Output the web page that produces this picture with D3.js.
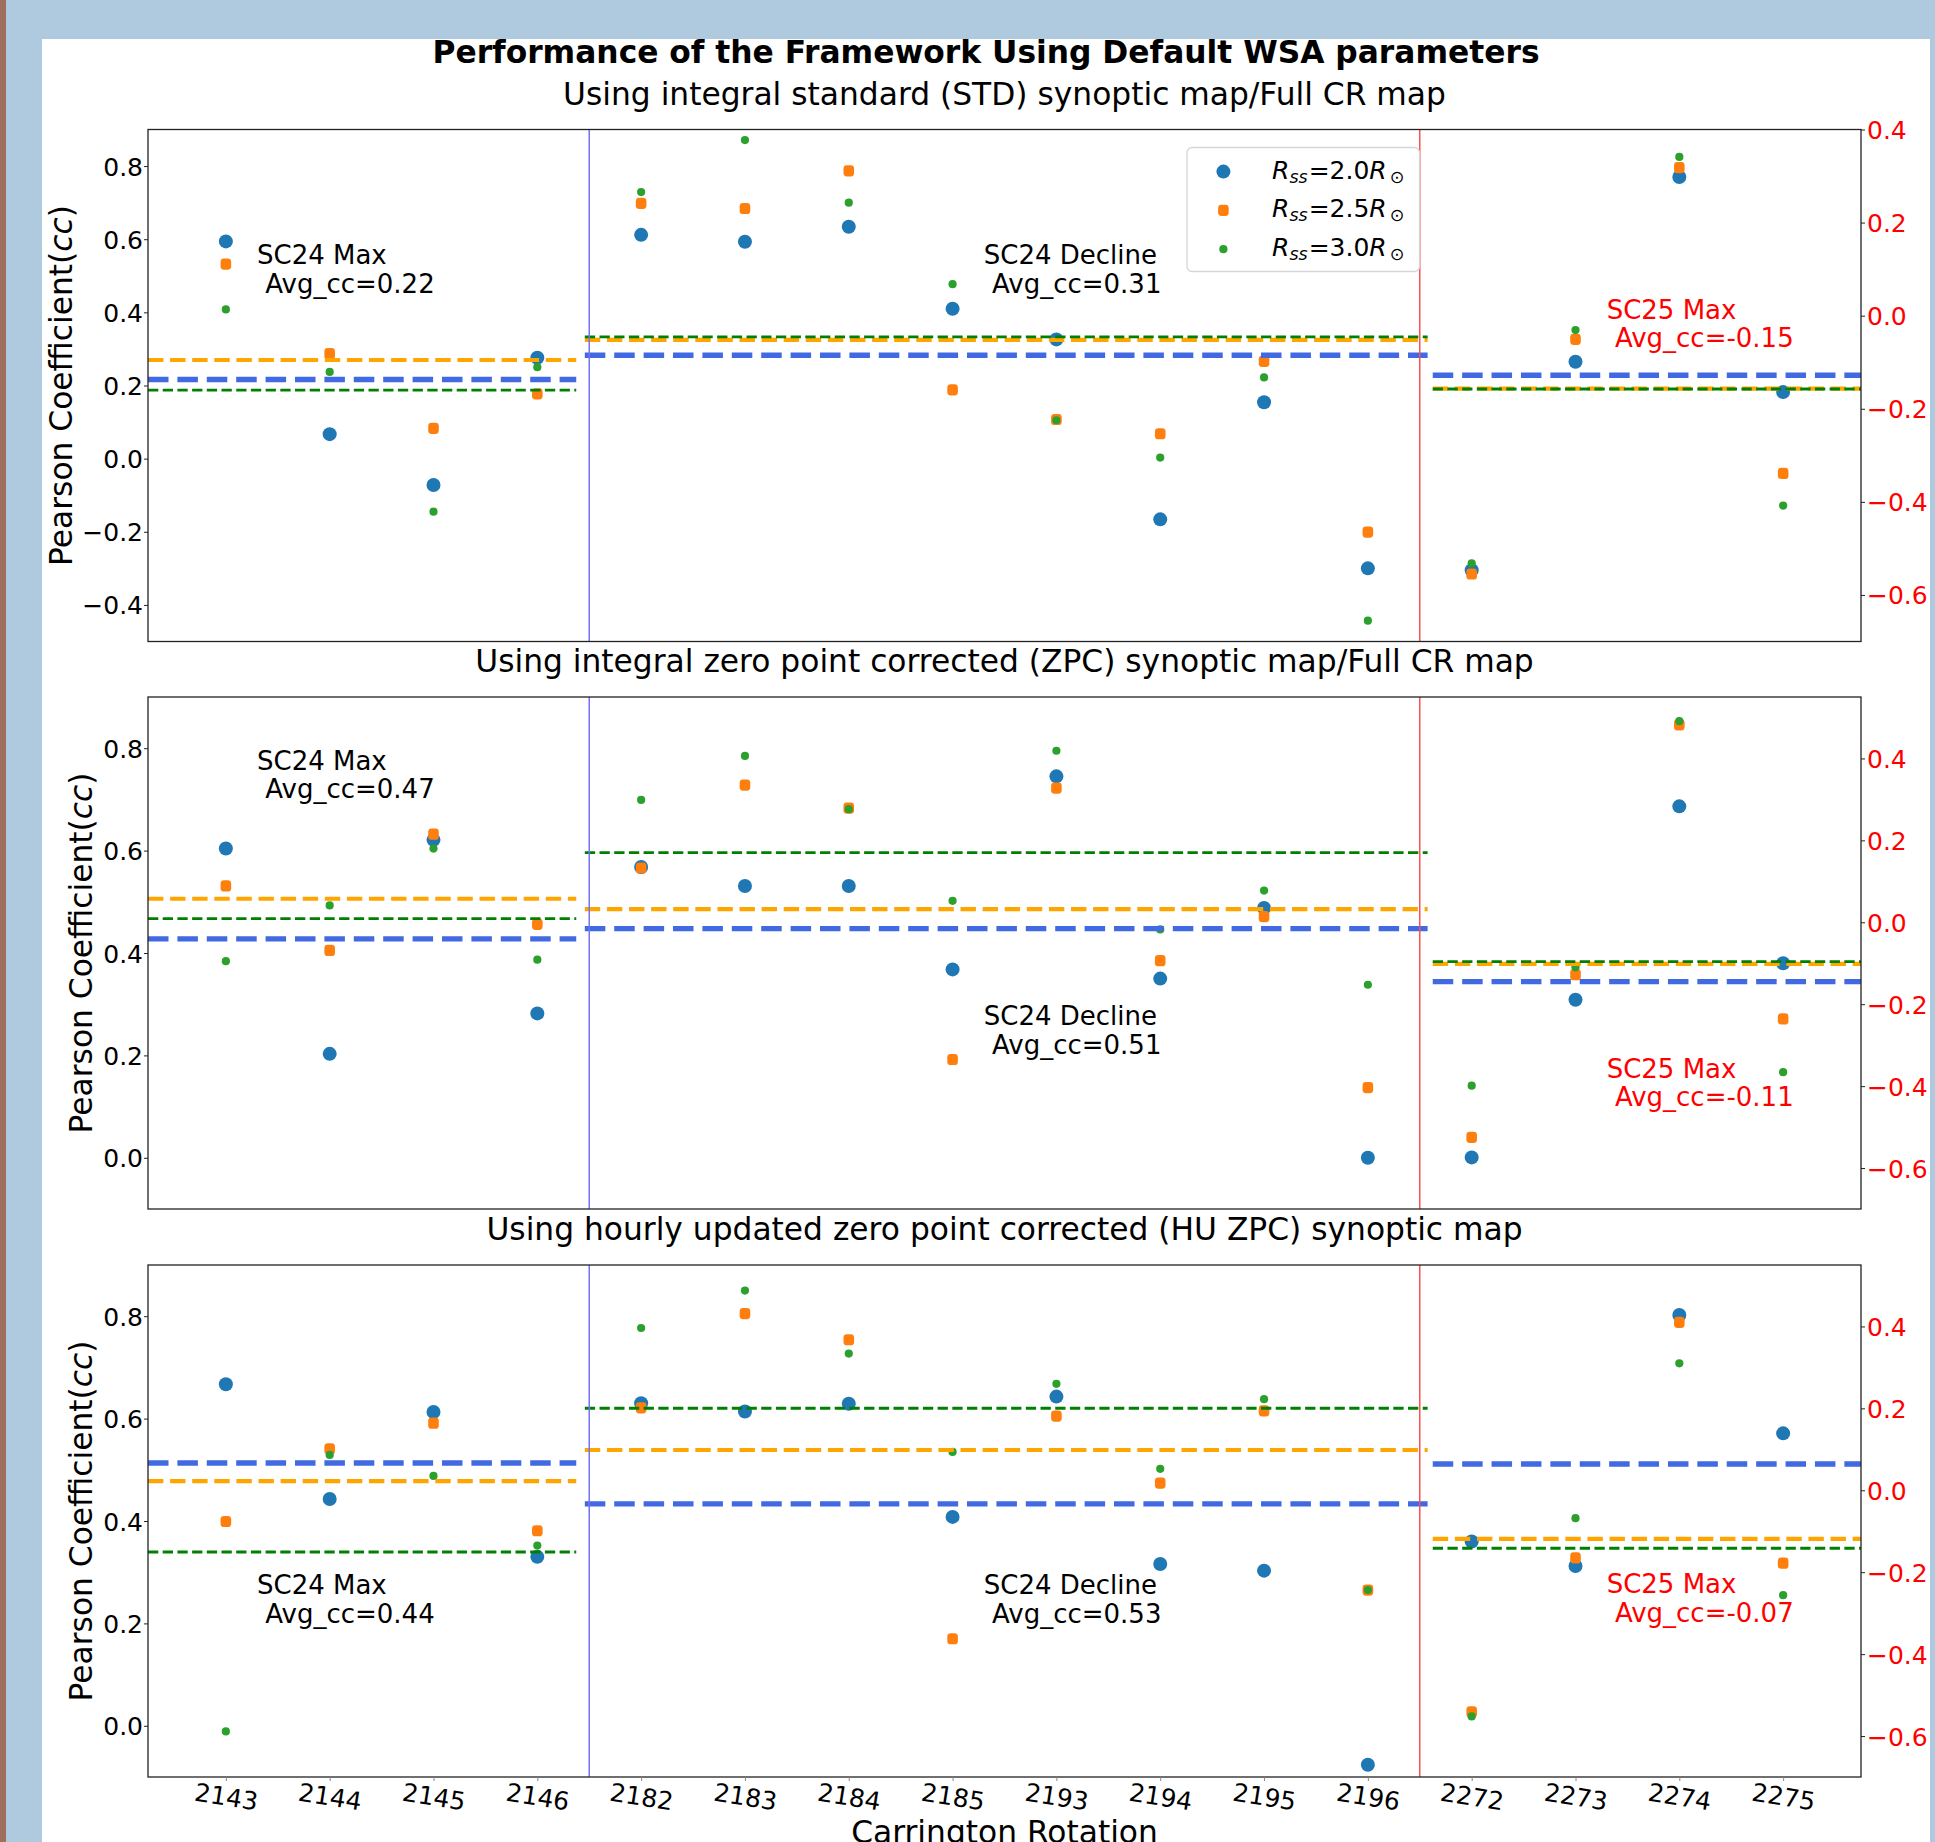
<!DOCTYPE html>
<html><head><meta charset="utf-8">
<script src="https://cdn.jsdelivr.net/npm/d3@7"></script>
<style>
body{margin:0;background:#fff;}
svg{display:block;font-family:"DejaVu Sans",sans-serif;}
</style>
</head><body>
<svg id="chart" width="1935" height="1842"></svg>
<script>
// ---------------- DATA ----------------
const categories = ["2143","2144","2145","2146","2182","2183","2184","2185","2193","2194","2195","2196","2272","2273","2274","2275"];
// phase group of each rotation: 0 = SC24 Max, 1 = SC24 Decline, 2 = SC25 Max (right axis)
const groupOf = [0,0,0,0,1,1,1,1,1,1,1,1,2,2,2,2];
const seriesNames = ["2.0","2.5","3.0"];

// Panel 1: integral standard (STD) map
const std20 = [0.594, 0.067, -0.072, 0.276, 0.612, 0.593, 0.634, 0.410, 0.326, -0.166, 0.154, -0.300, -0.547, -0.099, 0.298, -0.164];
const std25 = [0.532, 0.287, 0.083, 0.177, 0.698, 0.684, 0.787, 0.188, 0.107, 0.068, 0.266, -0.201, -0.555, -0.051, 0.318, -0.339];
const std30 = [0.408, 0.237, -0.145, 0.250, 0.729, 0.871, 0.700, 0.477, 0.105, 0.003, 0.222, -0.443, -0.532, -0.031, 0.341, -0.408];
// Panel 2: integral zero point corrected (ZPC) map
const zpc20 = [0.604, 0.203, 0.621, 0.282, 0.568, 0.531, 0.531, 0.368, 0.745, 0.350, 0.488, 0.000, -0.574, -0.189, 0.283, -0.100];
const zpc25 = [0.531, 0.405, 0.632, 0.456, 0.566, 0.728, 0.683, 0.192, 0.722, 0.385, 0.471, 0.137, -0.525, -0.128, 0.482, -0.236];
const zpc30 = [0.384, 0.493, 0.604, 0.387, 0.699, 0.785, 0.681, 0.502, 0.795, 0.446, 0.522, 0.338, -0.399, -0.110, 0.491, -0.366];
// Panel 3: hourly updated ZPC map
const hu20 = [0.667, 0.443, 0.613, 0.330, 0.630, 0.614, 0.629, 0.408, 0.643, 0.316, 0.303, -0.076, -0.125, -0.185, 0.428, 0.139];
const hu25 = [0.399, 0.541, 0.591, 0.381, 0.621, 0.805, 0.754, 0.170, 0.605, 0.474, 0.615, 0.265, -0.541, -0.165, 0.410, -0.178];
const hu30 = [-0.011, 0.529, 0.488, 0.352, 0.777, 0.850, 0.727, 0.535, 0.668, 0.502, 0.638, 0.265, -0.552, -0.068, 0.310, -0.256];

const panelSeries = [[std20, std25, std30], [zpc20, zpc25, zpc30], [hu20, hu25, hu30]];
const panelTitles = [
  "Using integral standard (STD) synoptic map/Full CR map",
  "Using integral zero point corrected (ZPC) synoptic map/Full CR map",
  "Using hourly updated zero point corrected (HU ZPC) synoptic map"
];
const groupNames = ["SC24 Max", "SC24 Decline", "SC25 Max"];
const avgLabels = [["0.22","0.31","-0.15"], ["0.47","0.51","-0.11"], ["0.44","0.53","-0.07"]];
const leftDomains = [[-0.5, 0.9], [-0.1, 0.9], [-0.1, 0.9]];
const rightDomains = [[-0.7, 0.4], [-0.7, 0.55], [-0.7, 0.55]];
const leftTicks = [[-0.4,-0.2,0,0.2,0.4,0.6,0.8], [0,0.2,0.4,0.6,0.8], [0,0.2,0.4,0.6,0.8]];
const rightTicks = [-0.6,-0.4,-0.2,0,0.2,0.4];
const phaseBoundaries = [3.5, 11.5];

// ---------------- LAYOUT / STYLE ----------------
const W = 1935, H = 1842;
const axL = 148, axR = 1861, panelH = 512;
const panelTops = [129.5, 697, 1265];
// annotation anchors (data coords: x index, y value on group's axis)
const annotAnchor = [
  [[0.3, 0.532], [7.3, 0.532], [13.3, -0.007]],
  [[0.3, 0.758], [7.3, 0.259], [13.3, -0.379]],
  [[0.3, 0.257], [7.3, 0.257], [13.3, -0.251]]
];
const avgExtent = [[0, 0.25], [0.255, 0.747], [0.75, 1.0]]; // axes fraction
const markerColors = ["#1f77b4", "#ff7f0e", "#2ca02c"];
const avgColors = ["#4169e1", "#ffa500", "#008000"];
const avgWidths = [5.4, 4.2, 2.8];
const avgDash = ["20.5 8.9", "15.4 6.7", "10.3 4.4"];
const vlineColors = ["#7272f6", "#ff5050"];

const svg = d3.select("#chart");
// background frame
svg.append("rect").attr("width", W).attr("height", H).attr("fill", "#afc9de");
svg.append("rect").attr("x", 0).attr("y", 0).attr("width", 6).attr("height", H).attr("fill", "#a06e5f");
svg.append("rect").attr("x", 42).attr("y", 39).attr("width", 1888).attr("height", H - 39).attr("fill", "#ffffff");

const x = d3.scaleLinear().domain([-0.75, 15.75]).range([axL, axR]);
const fmt = d3.format(".1f");

function drawMarker(g, s, cx, cy) {
  if (s === 0) {
    g.append("circle").attr("cx", cx).attr("cy", cy).attr("r", 7).attr("fill", markerColors[0]);
  } else if (s === 1) {
    g.append("rect").attr("x", cx - 5.3).attr("y", cy - 5.6).attr("width", 10.6).attr("height", 11.2)
      .attr("rx", 3.4).attr("fill", markerColors[1]);
  } else {
    g.append("circle").attr("cx", cx).attr("cy", cy).attr("r", 4.1).attr("fill", markerColors[2]);
  }
}

svg.append("text").attr("x", 986).attr("y", 63).attr("text-anchor", "middle")
  .attr("font-size", 31.3).attr("font-weight", "bold").text("Performance of the Framework Using Default WSA parameters");

panelTops.forEach((top, p) => {
  const bottom = top + panelH;
  const yL = d3.scaleLinear().domain(leftDomains[p]).range([bottom, top]);
  const yR = d3.scaleLinear().domain(rightDomains[p]).range([bottom, top]);
  const yOf = i => (groupOf[i] === 2 ? yR : yL);
  const g = svg.append("g");

  // points
  panelSeries[p].forEach((vals, s) => {
    vals.forEach((v, i) => drawMarker(g, s, x(i), yOf(i)(v)));
  });

  // group average lines
  [0, 1, 2].forEach(k => {
    const ys = k === 2 ? yR : yL;
    panelSeries[p].forEach((vals, s) => {
      const m = d3.mean(vals.filter((v, i) => groupOf[i] === k));
      const x0 = axL + avgExtent[k][0] * (axR - axL), x1 = axL + avgExtent[k][1] * (axR - axL);
      g.append("line").attr("x1", x0).attr("x2", x1).attr("y1", ys(m)).attr("y2", ys(m))
        .attr("stroke", avgColors[s]).attr("stroke-width", avgWidths[s]).attr("stroke-dasharray", avgDash[s]);
    });
  });

  // phase boundaries
  phaseBoundaries.forEach((b, k) => {
    g.append("line").attr("x1", x(b)).attr("x2", x(b)).attr("y1", top).attr("y2", bottom)
      .attr("stroke", vlineColors[k]).attr("stroke-width", 1.5);
  });

  // spines
  g.append("rect").attr("x", axL).attr("y", top).attr("width", axR - axL).attr("height", panelH)
    .attr("fill", "none").attr("stroke", "#222").attr("stroke-width", 1.3);

  // left axis
  const la = g.append("g").attr("transform", `translate(${axL},0)`)
    .call(d3.axisLeft(yL).tickValues(leftTicks[p]).tickSize(4).tickPadding(1).tickFormat(fmt));
  la.select(".domain").remove();
  la.attr("font-family", null).attr("font-size", 25);
  la.selectAll("text").attr("dy", "0.36em").attr("fill", "#000");
  la.selectAll("line").attr("stroke", "#222");

  // right axis
  const ra = g.append("g").attr("transform", `translate(${axR},0)`)
    .call(d3.axisRight(yR).tickValues(rightTicks).tickSize(4).tickPadding(2).tickFormat(fmt));
  ra.select(".domain").remove();
  ra.attr("font-family", null).attr("font-size", 25);
  ra.selectAll("text").attr("dy", "0.36em").attr("fill", "#ff0000");
  ra.selectAll("line").attr("stroke", "#222");

  // bottom axis only on last panel
  if (p === 2) {
    const ba = g.append("g").attr("transform", `translate(0,${bottom})`)
      .call(d3.axisBottom(x).tickValues(d3.range(categories.length)).tickSize(4).tickFormat(i => categories[i]));
    ba.select(".domain").remove();
    ba.attr("font-family", null).attr("font-size", 25);
    ba.selectAll("line").attr("stroke", "#888");
    ba.selectAll("text").attr("y", 19.7).attr("dy", "0.36em").attr("fill", "#000")
      .attr("transform", "rotate(9,0,19.7)");
    svg.append("text").attr("x", (axL + axR) / 2).attr("y", 1843).attr("text-anchor", "middle")
      .attr("font-size", 31.3).text("Carrington Rotation");
  }

  // y label
  const yl = svg.append("text").attr("font-size", 31.3).attr("text-anchor", "middle")
    .attr("transform", `translate(${p === 0 ? 72 : 92},${top + panelH / 2}) rotate(-90)`);
  yl.append("tspan").text("Pearson Coefficient(");
  yl.append("tspan").attr("font-style", "italic").text("cc");
  yl.append("tspan").text(")");

  // title
  svg.append("text").attr("x", (axL + axR) / 2).attr("y", top - 25).attr("text-anchor", "middle")
    .attr("font-size", 31.3).text(panelTitles[p]);

  // annotations
  annotAnchor[p].forEach((a, k) => {
    const ys = k === 2 ? yR : yL;
    const col = k === 2 ? "#ff0000" : "#000000";
    const t = g.append("text").attr("font-size", 26).attr("fill", col).attr("xml:space", "preserve")
      .style("white-space", "pre");
    t.append("tspan").attr("x", x(a[0])).attr("y", ys(a[1])).text(groupNames[k]);
    t.append("tspan").attr("x", x(a[0])).attr("y", ys(a[1]) + 28.5).text(" Avg_cc=" + avgLabels[p][k]);
  });

  // legend (first panel)
  if (p === 0) {
    const lg = g.append("g");
    lg.append("rect").attr("x", 1187).attr("y", 147.5).attr("width", 232.5).attr("height", 124)
      .attr("rx", 5).attr("fill", "#fff").attr("fill-opacity", 0.8).attr("stroke", "#d6d6d6").attr("stroke-width", 1.3);
    seriesNames.forEach((nm, s) => {
      const cy = 171.6 + s * 38.8;
      drawMarker(lg, s, 1223.4, cy);
      const t = lg.append("text").attr("x", 1272).attr("y", cy + 7).attr("font-size", 25);
      t.append("tspan").attr("font-style", "italic").text("R");
      t.append("tspan").attr("font-style", "italic").attr("font-size", 17.5).attr("dy", 4).text("ss");
      t.append("tspan").attr("dy", -4).attr("dx", 1).text("=" + nm);
      t.append("tspan").attr("font-style", "italic").text("R");
      t.append("tspan").attr("font-size", 17.5).attr("dy", 4).attr("dx", 3).text("\u2299");
    });
  }
});
</script>
</body></html>
